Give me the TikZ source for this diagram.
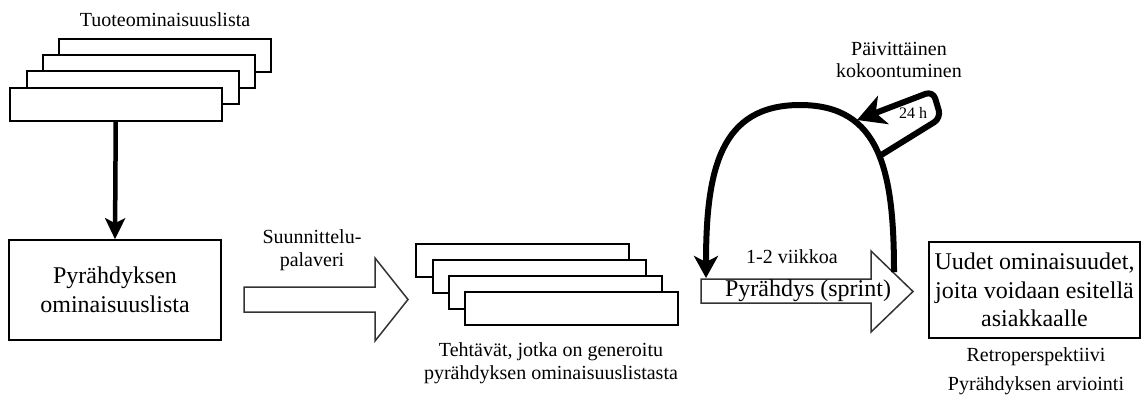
\documentclass[tikz,border=0pt]{standalone}
\usepackage{fontspec}
\setmainfont{Liberation Serif}
\usetikzlibrary{arrows.meta}
\begin{document}
\begin{tikzpicture}[x=1pt,y=-1pt,
  card/.style={draw=black, line width=1.5pt, fill=white, minimum width=212pt,
    minimum height=33pt, inner sep=0pt, anchor=north west},
  panel/.style={draw=black, line width=1.5pt, fill=white, inner sep=0pt,
    align=center, font=\fontsize{24}{28.5}\selectfont},
  lbl/.style={align=center, inner sep=0pt, font=\fontsize{20}{22.5}\selectfont},
  biglbl/.style={align=center, inner sep=0pt, font=\fontsize{24}{28.5}\selectfont},
  bigarrow/.style={draw=black!80, line width=1.5pt, fill=white, line join=miter},
  heavy/.style={draw=black, line width=6pt},
]
\useasboundingbox (0,0) rectangle (1142,408);

% product backlog: a stack of cards
\node[lbl] (backlogtitle) at (165,20) {Tuoteominaisuuslista};
\node[card] (t1) at (58,38) {};
\node[card] (t2) at (42,54) {};
\node[card] (t3) at (26,70) {};
\node[card] (t4) at (9,87) {};

% sprint backlog
\node[panel, minimum width=212pt, minimum height=100pt] (pbox) at (115,290)
  {Pyrähdyksen\\ominaisuuslista};
\draw[line width=4.5pt, -{Stealth[length=21pt,width=20pt,inset=5pt]}] (t4.south) -- (pbox.north);

% planning meeting arrow
\draw[bigarrow] (244,287) -- (375,287) -- (375,258) -- (408,299.5) -- (375,341)
  -- (375,312) -- (244,312) -- cycle;
\node[lbl] (plan) at (312,250) {Suunnittelu-\\palaveri};

% tasks: second stack of cards
\node[card, minimum width=213pt] (m1) at (415,243) {};
\node[card, minimum width=213pt] (m2) at (432,259) {};
\node[card, minimum width=213pt] (m3) at (448,275) {};
\node[card, minimum width=213pt] (m4) at (464,291) {};
\node[lbl] (tasks) at (551,363) {Tehtävät, jotka on generoitu\\pyrähdyksen ominaisuuslistasta};

% sprint arrow
\draw[bigarrow] (701,279) -- (871,279) -- (871,251) -- (913,291.5) -- (871,332)
  -- (871,303) -- (701,303) -- cycle;
\node[lbl] (weeks) at (792,257) {1-2 viikkoa};
\node[biglbl] (sprint) at (808,291) {Pyrähdys (sprint)};

% sprint loop
\coordinate (loopstart) at (894,272);
\coordinate (looptop) at (800,105);
\coordinate (loopend) at (706,278);
\draw[heavy, -{Stealth[length=22pt,width=24pt,inset=6pt]}]
  (loopstart) .. controls (894,170) and (880,105) .. (looptop)
  .. controls (720,105) and (706,170) .. (loopend);

% daily meeting loop
\coordinate (dailystart) at (878,157);
\coordinate (dailytip) at (857,120);
\draw[heavy, rounded corners=8pt, -{Stealth[length=28pt,width=30pt,inset=8pt]}]
  (dailystart) -- (941,118) -- (933,91) -- (dailytip);
\node[inner sep=0pt, font=\fontsize{16}{18}\selectfont] (hours) at (913,113) {24 h};
\node[lbl] (daily) at (899,60) {Päivittäinen\\kokoontuminen};

% result
\node[panel, minimum width=211pt, minimum height=96pt] (result) at (1034.5,290)
  {Uudet ominaisuudet,\\joita voidaan esitellä\\asiakkaalle};
\node[lbl] (retro) at (1036,357) {Retroperspektiivi};
\node[lbl] (review) at (1036,386) {Pyrähdyksen arviointi};
\end{tikzpicture}
\end{document}
